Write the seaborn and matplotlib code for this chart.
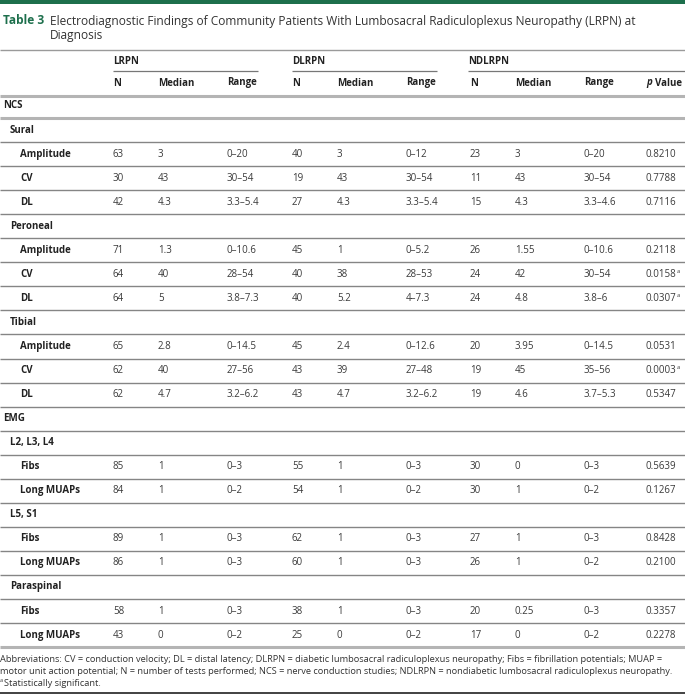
import matplotlib
matplotlib.use("Agg")
import matplotlib.pyplot as plt
import seaborn as sns

sns.set_theme(style="white")
plt.rcParams['font.family'] = ['Open Sans', 'DejaVu Sans']

# ---------------- data ----------------
title_label = "Table 3"
title_lines = ["Electrodiagnostic Findings of Community Patients With Lumbosacral Radiculoplexus Neuropathy (LRPN) at",
               "Diagnosis"]
groups = ["LRPN", "DLRPN", "NDLRPN"]
subheaders = ["N", "Median", "Range"]

# row kinds: 0 = section, 1 = nerve / muscle group, 2 = measure
row_labels = ["NCS", "Sural", "Amplitude", "CV", "DL", "Peroneal", "Amplitude", "CV", "DL",
              "Tibial", "Amplitude", "CV", "DL", "EMG", "L2, L3, L4", "Fibs", "Long MUAPs",
              "L5, S1", "Fibs", "Long MUAPs", "Paraspinal", "Fibs", "Long MUAPs"]
row_kinds = [0, 1, 2, 2, 2, 1, 2, 2, 2, 1, 2, 2, 2, 0, 1, 2, 2, 1, 2, 2, 1, 2, 2]

lrpn_n      = ["", "", "63", "30", "42", "", "71", "64", "64", "", "65", "62", "62", "", "", "85", "84", "", "89", "86", "", "58", "43"]
lrpn_median = ["", "", "3", "43", "4.3", "", "1.3", "40", "5", "", "2.8", "40", "4.7", "", "", "1", "1", "", "1", "1", "", "1", "0"]
lrpn_range  = ["", "", "0–20", "30–54", "3.3–5.4", "", "0–10.6", "28–54", "3.8–7.3", "", "0–14.5", "27–56", "3.2–6.2", "", "", "0–3", "0–2", "", "0–3", "0–3", "", "0–3", "0–2"]
dlrpn_n      = ["", "", "40", "19", "27", "", "45", "40", "40", "", "45", "43", "43", "", "", "55", "54", "", "62", "60", "", "38", "25"]
dlrpn_median = ["", "", "3", "43", "4.3", "", "1", "38", "5.2", "", "2.4", "39", "4.7", "", "", "1", "1", "", "1", "1", "", "1", "0"]
dlrpn_range  = ["", "", "0–12", "30–54", "3.3–5.4", "", "0–5.2", "28–53", "4–7.3", "", "0–12.6", "27–48", "3.2–6.2", "", "", "0–3", "0–2", "", "0–3", "0–3", "", "0–3", "0–2"]
ndlrpn_n      = ["", "", "23", "11", "15", "", "26", "24", "24", "", "20", "19", "19", "", "", "30", "30", "", "27", "26", "", "20", "17"]
ndlrpn_median = ["", "", "3", "43", "4.3", "", "1.55", "42", "4.8", "", "3.95", "45", "4.6", "", "", "0", "1", "", "1", "1", "", "0.25", "0"]
ndlrpn_range  = ["", "", "0–20", "30–54", "3.3–4.6", "", "0–10.6", "30–54", "3.8–6", "", "0–14.5", "35–56", "3.7–5.3", "", "", "0–3", "0–2", "", "0–3", "0–2", "", "0–3", "0–2"]
p_values    = ["", "", "0.8210", "0.7788", "0.7116", "", "0.2118", "0.0158", "0.0307", "", "0.0531", "0.0003", "0.5347", "", "", "0.5639", "0.1267", "", "0.8428", "0.2100", "", "0.3357", "0.2278"]
significant = ["", "", "", "", "", "", "", "a", "a", "", "", "a", "", "", "", "", "", "", "", "", "", "", ""]

footnote_lines = [
    "Abbreviations: CV = conduction velocity; DL = distal latency; DLRPN = diabetic lumbosacral radiculoplexus neuropathy; Fibs = fibrillation potentials; MUAP =",
    "motor unit action potential; N = number of tests performed; NCS = nerve conduction studies; NDLRPN = nondiabetic lumbosacral radiculoplexus neuropathy.",
]
footnote_sig = "Statistically significant."

# ---------------- layout ----------------
W, H = 685, 697
fig = plt.figure(figsize=(W / 100, H / 100), dpi=100)
ax = fig.add_axes([0, 0, 1, 1])
ax.set_xlim(0, W)
ax.set_ylim(H, 0)
ax.axis("off")

GREEN = "#1d6f4c"
TXT = "#3a3a3a"
HEAD = "#222222"
LINE = "#858585"
THICK = "#b4b4b4"
fs = 7.0

def hline(y, x0=0, x1=W, color=LINE, lw=1.0):
    ax.plot([x0, x1], [y, y], color=color, lw=lw, solid_capstyle="butt")

# top bar
ax.add_patch(plt.Rectangle((0, 0), W, 3.5, color=GREEN, lw=0))

tfs = 8.6
ax.text(3, 21, title_label, color=GREEN, fontsize=tfs, fontweight="bold", va="center", ha="left")
ax.text(50, 21, title_lines[0], color="#333333", fontsize=tfs, va="center", ha="left")
ax.text(50, 36, title_lines[1], color="#333333", fontsize=tfs, va="center", ha="left")
hline(50, color="#9a9a9a", lw=1.0)

col_x = [113, 158, 227, 292, 337, 406, 470, 515, 584]
p_x = 646
group_x = [(113, 258), (292, 437), (468, W)]

for g, (x0, x1) in zip(groups, group_x):
    ax.text(x0, 61, g, fontsize=fs, fontweight="bold", color=HEAD, va="center", ha="left")
    hline(70.5, x0, x1, color="#777777", lw=0.9)
for i, x in enumerate(col_x):
    ax.text(x, 83, subheaders[i % 3], fontsize=fs, fontweight="bold", color=HEAD, va="center", ha="left")
ax.text(p_x, 83, "p", fontsize=fs, fontweight="bold", style="italic", color=HEAD, va="center", ha="left")
ax.text(p_x + 9.0, 83, "Value", fontsize=fs, fontweight="bold", color=HEAD, va="center", ha="left")
hline(95.5, color=THICK, lw=2.2)

row_y0 = 106
pitch = 24.05
fig.canvas.draw()
renderer = fig.canvas.get_renderer()

columns = [lrpn_n, lrpn_median, lrpn_range, dlrpn_n, dlrpn_median, dlrpn_range,
           ndlrpn_n, ndlrpn_median, ndlrpn_range]
indent = {0: 3, 1: 10, 2: 20}
for r, (lab, kind) in enumerate(zip(row_labels, row_kinds)):
    y = row_y0 + r * pitch
    ax.text(indent[kind], y, lab, fontsize=fs, fontweight="bold", color=HEAD, va="center", ha="left")
    for c, x in zip(columns, col_x):
        if c[r]:
            ax.text(x, y, c[r], fontsize=fs, color=TXT, va="center", ha="left")
    if p_values[r]:
        t = ax.text(p_x, y, p_values[r], fontsize=fs, color=TXT, va="center", ha="left")
        if significant[r]:
            bb = t.get_window_extent(renderer=renderer)
            x_end = bb.x1 * W / fig.bbox.width
            ax.text(x_end + 0.3, y - 3, significant[r], fontsize=fs * 0.6, color=TXT, va="center", ha="left")
    # separator below row
    ysep = y + pitch / 2
    if r == 0:
        hline(ysep - 0.5, color=THICK, lw=2.2)
    elif r == len(row_labels) - 1:
        hline(ysep, color=THICK, lw=2.2)
    else:
        hline(ysep, color=LINE, lw=1.0)

fy = 659
ffs = 6.65
for i, line in enumerate(footnote_lines):
    ax.text(0, fy + i * 12, line, fontsize=ffs, color="#333333", va="center", ha="left")
ax.text(0, fy + 2 * 12 - 2.5, "a", fontsize=ffs * 0.6, color="#333333", va="center", ha="left")
ax.text(4, fy + 2 * 12, footnote_sig, fontsize=ffs, color="#333333", va="center", ha="left")
hline(693, color="#333333", lw=1.3)

fig.savefig("out.png", dpi=100)
